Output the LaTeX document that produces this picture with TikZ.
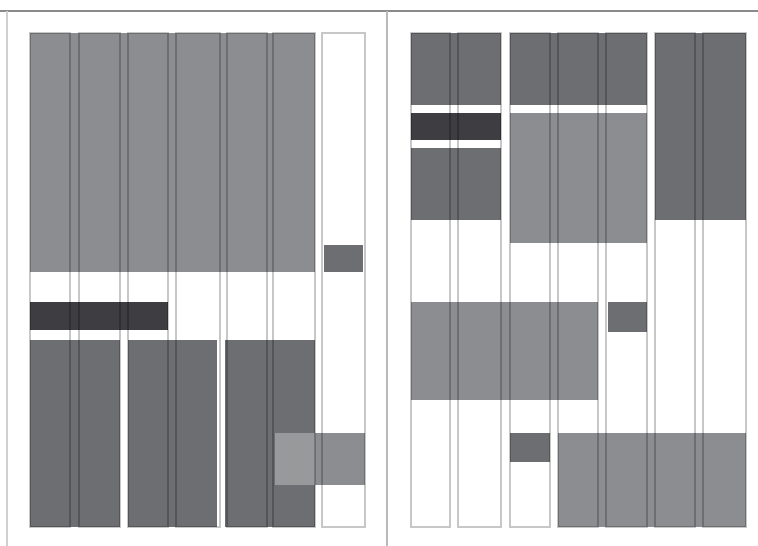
\documentclass[tikz,border=0pt]{standalone}
\definecolor{blockmid}{HTML}{8B8D90}
\definecolor{blockdark}{HTML}{6D6E72}
\definecolor{blockblack}{HTML}{3D3D42}
\definecolor{blocklight}{HTML}{97999B}
\definecolor{framegray}{HTML}{8A8A8A}

\begin{document}
\begin{tikzpicture}[x=0.02cm, y=-0.02cm,
    colline/.style={draw=black, draw opacity=0.22, line width=0.7pt}]
    \useasboundingbox (0,0) rectangle (758,546);

    % page frame
    \draw[framegray, line width=1.3pt] (0,11) -- (758,11);
    \draw[framegray!40, line width=1.2pt] (7,11) -- (7,546);
    \draw[framegray!60, line width=1.4pt] (387,11) -- (387,546);

    % left page
    \fill[blockmid] (30,33) rectangle (315,272);
    \fill[blockdark] (324,245) rectangle (363,272);
    \fill[blockblack] (30,302) rectangle (168,330);
    \fill[blockdark] (30,340) rectangle (120,527);
    \fill[blockdark] (128,340) rectangle (217,527);
    \fill[blockdark] (225,340) rectangle (315,527);
    \fill[blocklight] (275,433) rectangle (315,485);
    \fill[blockmid] (315,433) rectangle (365,485);

    % right page
    \fill[blockdark] (411,33) rectangle (501,105);
    \fill[blockblack] (411,113) rectangle (501,140);
    \fill[blockdark] (411,148) rectangle (501,220);
    \fill[blockdark] (510,33) rectangle (647,105);
    \fill[blockmid] (510,113) rectangle (647,243);
    \fill[blockdark] (655,33) rectangle (746,220);
    \fill[blockmid] (411,302) rectangle (598,400);
    \fill[blockdark] (608,302) rectangle (647,332);
    \fill[blockdark] (510,433) rectangle (550,462);
    \fill[blockmid] (558,433) rectangle (746,527);

    % column grid
    \foreach \l/\r in {30/70, 79/120, 128/168, 176/220, 227/267, 273/315, 322/365,
                       411/450, 458/501, 510/550, 558/598, 606/647, 655/695, 703/746}
        \draw[colline] (\l,33) rectangle (\r,527);
\end{tikzpicture}
\end{document}
